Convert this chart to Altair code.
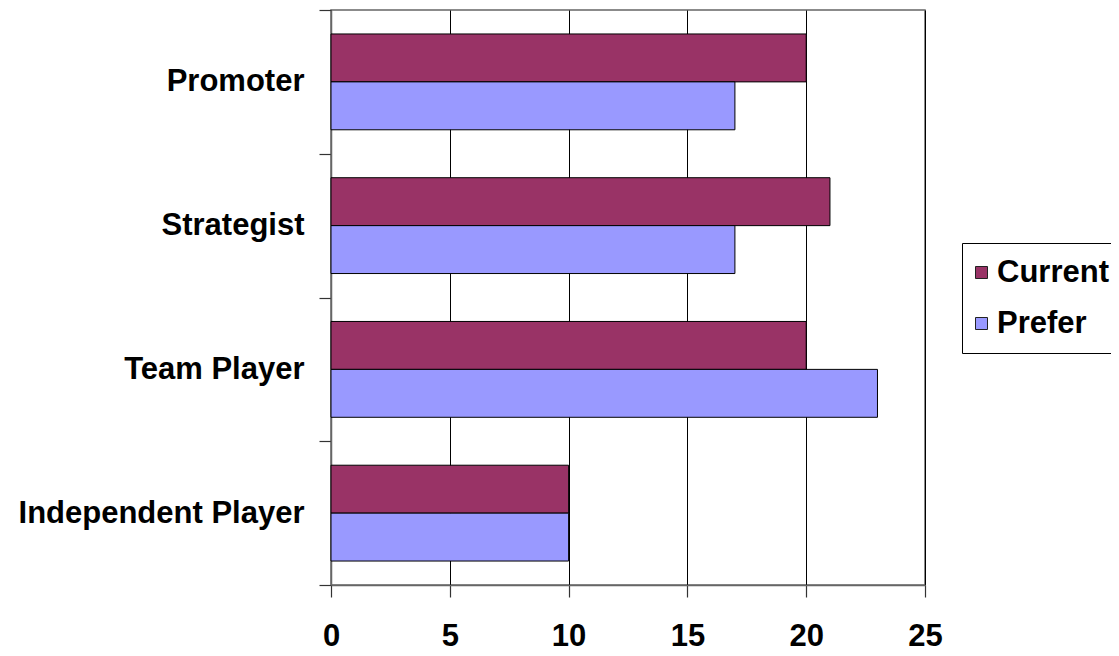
import altair as alt
import pandas as pd

categories = ["Promoter", "Strategist", "Team Player", "Independent Player"]
series = ["Current", "Prefer"]
current = [20, 21, 20, 10]
prefer = [17, 17, 23, 10]
x_ticks = [0, 5, 10, 15, 20, 25]
colors = ["#993366", "#9999FF"]

rows = []
for c, cur, pre in zip(categories, current, prefer):
    rows.append({"Category": c, "Series": "Current", "Value": cur})
    rows.append({"Category": c, "Series": "Prefer", "Value": pre})
df = pd.DataFrame(rows)

FONT = "Liberation Sans"

chart = alt.Chart(df).mark_bar(stroke="#000000", strokeWidth=1).encode(
    x=alt.X(
        "Value:Q",
        scale=alt.Scale(domain=[0, 25], nice=False, zero=True),
        axis=alt.Axis(
            values=x_ticks,
            title=None,
            grid=True,
            gridColor="#000000",
            gridWidth=1,
            gridOpacity=1,
            ticks=True,
            tickColor="#333333",
            tickSize=12,
            tickWidth=1.2,
            domainColor="#666666",
            domainWidth=1.5,
            labelFont=FONT,
            labelFontSize=31,
            labelFontWeight="bold",
            labelColor="#000000",
            labelPadding=24,
            labelFlush=False,
        ),
    ),
    y=alt.Y(
        "Category:N",
        sort=categories,
        scale=alt.Scale(paddingInner=0, paddingOuter=0),
        axis=alt.Axis(
            title=None,
            grid=False,
            ticks=True,
            tickBand="extent",
            tickColor="#333333",
            tickSize=12,
            tickWidth=1.2,
            domainColor="#666666",
            domainWidth=1.5,
            labelFont=FONT,
            labelFontSize=31,
            labelFontWeight="bold",
            labelColor="#000000",
            labelPadding=15,
            labelLimit=400,
        ),
    ),
    yOffset=alt.YOffset(
        "Series:N",
        sort=series,
        scale=alt.Scale(paddingInner=0, paddingOuter=0.5),
    ),
    color=alt.Color(
        "Series:N",
        sort=series,
        scale=alt.Scale(domain=series, range=colors),
        legend=alt.Legend(
            title=None,
            orient="none",
            legendX=631,
            legendY=233,
            symbolType="square",
            symbolSize=144,
            symbolOffset=-10,
            symbolStrokeColor="#222222",
            symbolStrokeWidth=1,
            labelFont=FONT,
            labelFontSize=31,
            labelFontWeight="bold",
            labelColor="#000000",
            labelOffset=0,
            rowPadding=19,
            padding=14,
            strokeColor="#000000",
            fillColor="#ffffff",
            labelLimit=400,
        ),
    ),
).properties(
    width=594,
    height=575,
    autosize=alt.AutoSizeParams(type="none"),
    padding={"left": 323, "top": 2, "right": 186, "bottom": 63},
).configure_view(
    stroke="#666666",
    strokeWidth=1.5,
)

chart.save("out.html", embed_options={"renderer": "svg", "actions": False})
